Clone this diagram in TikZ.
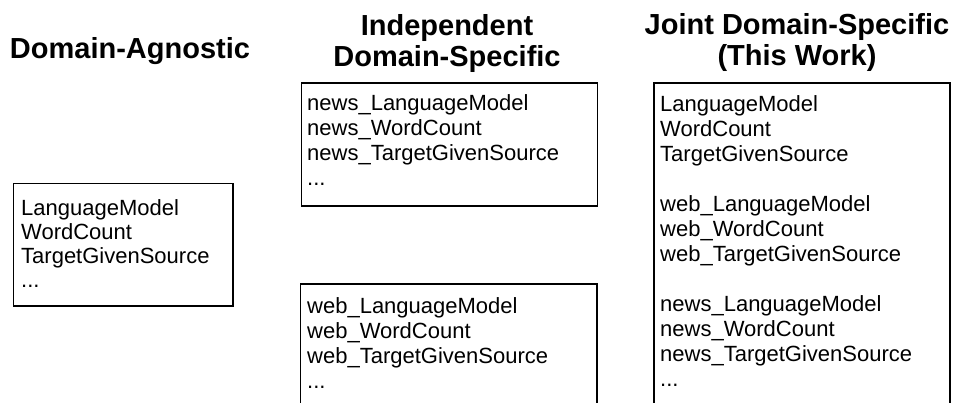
\documentclass[tikz,border=0pt]{standalone}
\usepackage{fontspec}
\setmainfont{Liberation Sans}
\begin{document}
\begin{tikzpicture}[x=1pt,y=-1pt,
  box/.style={draw=black, line width=1.6pt, inner sep=0pt, anchor=north west},
  txt/.style={font=\fontsize{22}{25}\selectfont, align=left, anchor=north west, inner sep=0pt},
  ttl/.style={font=\fontsize{29}{31}\selectfont\bfseries, align=center, anchor=north, inner sep=0pt}]
\useasboundingbox (0,0) rectangle (958,402);
\clip (0,0) rectangle (958,402);
% titles
\node[ttl] (tagn) at (130,36.8) {\strut Domain-Agnostic};
\node[ttl] (tind) at (447,14) {\strut Independent\\Domain-Specific};
\node[ttl] (tjnt) at (797,12.3) {\strut Joint Domain-Specific\\(This Work)};
% boxes
\node[box, minimum width=219.3pt, minimum height=122.3pt] (agn) at (12.7,182.7) {};
\node[box, minimum width=296.2pt, minimum height=123pt] (news) at (300.5,82) {};
\node[box, minimum width=296.5pt, minimum height=140pt] (web) at (299.5,283.3) {};
\node[box, minimum width=296pt, minimum height=340pt] (jnt) at (653,82) {};
% texts
\node[txt, font=\fontsize{22}{24}\selectfont] (agnt) at ([shift={(8.3,15.5)}]agn.north west) {\strut LanguageModel\\WordCount\\TargetGivenSource\\...};
\node[txt] (newst) at ([shift={(6.5,11)}]news.north west) {\strut news\_LanguageModel\\news\_WordCount\\news\_TargetGivenSource\\...};
\node[txt] (webt) at ([shift={(7.5,12.7)}]web.north west) {\strut web\_LanguageModel\\web\_WordCount\\web\_TargetGivenSource\\...};
\node[txt] (jntt) at ([shift={(7,11.5)}]jnt.north west) {\strut LanguageModel\\WordCount\\TargetGivenSource\\\strut\\web\_LanguageModel\\web\_WordCount\\web\_TargetGivenSource\\\strut\\news\_LanguageModel\\news\_WordCount\\news\_TargetGivenSource\\...};
\end{tikzpicture}
\end{document}
